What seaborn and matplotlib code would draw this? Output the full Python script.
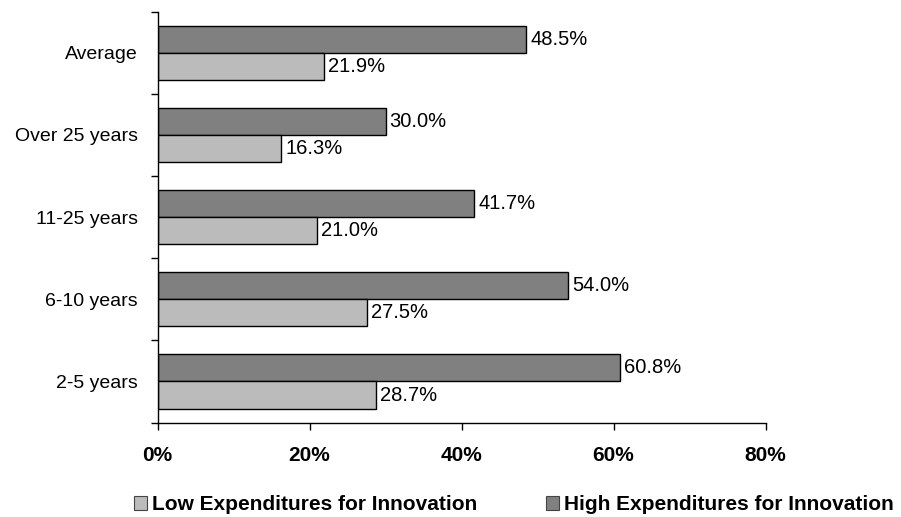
import matplotlib
matplotlib.use("Agg")
import matplotlib.pyplot as plt
from matplotlib.patches import Patch
from matplotlib.ticker import FixedLocator
import pandas as pd
import seaborn as sns

categories = ["Average", "Over 25 years", "11-25 years", "6-10 years", "2-5 years"]
high_values = [48.5, 30.0, 41.7, 54.0, 60.8]
low_values = [21.9, 16.3, 21.0, 27.5, 28.7]
series_names = ["Low Expenditures for Innovation", "High Expenditures for Innovation"]
x_ticks = [0, 20, 40, 60, 80]

sns.set_theme(style="white")
plt.rcParams["font.family"] = ["Liberation Sans", "DejaVu Sans"]
plt.rcParams["text.color"] = "black"
plt.rcParams["xtick.color"] = "black"
plt.rcParams["ytick.color"] = "black"

df = pd.DataFrame({
    "category": categories * 2,
    "value": high_values + low_values,
    "series": [series_names[1]] * len(categories) + [series_names[0]] * len(categories),
})

colors = {series_names[0]: "#bbbbbb", series_names[1]: "#808080"}

fig = plt.figure(figsize=(9.01, 5.17), dpi=100)
ax = fig.add_axes([157.5 / 901, 1 - 422.6 / 517, 608 / 901, 411 / 517])

sns.barplot(
    data=df, y="category", x="value", hue="series", order=categories,
    hue_order=[series_names[1], series_names[0]], palette=colors,
    orient="h", width=0.66, edgecolor="black", linewidth=1.0,
    legend=False, ax=ax,
)

for container in ax.containers:
    ax.bar_label(container, labels=[f"{v:.1f}%" for v in container.datavalues],
                 padding=3, fontsize=14.5, color="black")

ax.set_xlim(0, 80)
ax.set_ylim(len(categories) - 0.5, -0.5)
ax.set_xticks(x_ticks)
ax.set_xticklabels([f"{t}%" for t in x_ticks], fontsize=15, fontweight="bold")
ax.tick_params(axis="x", bottom=True, direction="out", length=5, width=1, pad=12)
ax.tick_params(axis="y", which="major", left=True, length=0, pad=14, labelsize=14)
ax.yaxis.set_minor_locator(FixedLocator([i - 0.5 for i in range(len(categories) + 1)]))
ax.tick_params(axis="y", which="minor", left=True, direction="out", length=5, width=1)
ax.set_xlabel("")
ax.set_ylabel("")
for side in ["top", "right"]:
    ax.spines[side].set_visible(False)
for side in ["left", "bottom"]:
    ax.spines[side].set_color("black")
    ax.spines[side].set_linewidth(1.0)

handles = [Patch(facecolor=colors[s], edgecolor="#444444", linewidth=0.8, label=s) for s in series_names]
fig.legend(handles=handles, loc="center", bbox_to_anchor=(514 / 901, 1 - 505 / 517),
           ncol=2, frameon=False, prop={"weight": "bold", "size": 15},
           handlelength=0.62, handleheight=0.62, handletextpad=0.25, columnspacing=3.28,
           borderpad=0, borderaxespad=0)

fig.savefig("out.png", dpi=100)
